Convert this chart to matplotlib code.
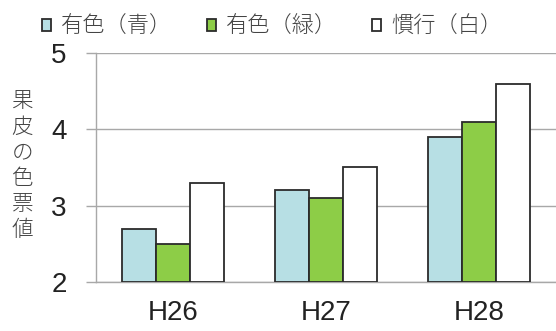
import numpy as np
import matplotlib.pyplot as plt
from matplotlib.ticker import MultipleLocator

plt.rcParams['font.family'] = ['Liberation Sans', 'Noto Sans CJK JP', 'DejaVu Sans']

# =========================
# Data
# =========================
years = ["H26", "H27", "H28"]
series_names = ["有色（青）", "有色（緑）", "慣行（白）"]
blue_vals = [2.7, 3.2, 3.9]
green_vals = [2.5, 3.1, 4.1]
white_vals = [3.3, 3.5, 4.6]
y_label = "果皮の色票値"

colors = ["#b7dfe4", "#8dcd47", "#ffffff"]
edge = "#2b2b2b"
grid_c = "#a8a8a8"
text_c = "#444444"

# =========================
# Plot
# =========================
fig = plt.figure(figsize=(5.56, 3.31), dpi=100)
ax = fig.add_axes([0.1727, 0.148, 0.8273, 0.692])

x = np.arange(len(years))
w = 0.222
handles = []
for i, (vals, c) in enumerate(zip([blue_vals, green_vals, white_vals], colors)):
    b = ax.bar(x + (i - 1) * w, np.array(vals) - 2, bottom=2, width=w,
               color=c, edgecolor=edge, linewidth=1.3, zorder=3)
    handles.append(b)

ax.set_xlim(-0.5, 2.5)
ax.set_ylim(2, 5)
ax.yaxis.set_major_locator(MultipleLocator(1))
ax.grid(axis="y", color=grid_c, linewidth=1.0, zorder=0)
ax.set_axisbelow(True)

for s in ["top", "right"]:
    ax.spines[s].set_visible(False)
ax.spines["left"].set_color(grid_c)
ax.spines["bottom"].set_color(grid_c)
ax.spines["left"].set_linewidth(1.0)
ax.spines["bottom"].set_linewidth(1.0)

ax.set_xticks(x)
ax.set_xticklabels(years)
ax.tick_params(axis="x", length=0, pad=13, labelsize=20, labelcolor="#222222")
ax.tick_params(axis="y", length=7, width=1.0, color=grid_c, pad=14,
               labelsize=20, labelcolor="#222222")

# vertical stacked y label
fig.text(0.04, 0.498, "\n".join(y_label), ha="center", va="center",
         fontsize=15.5, color=text_c, linespacing=1.3, fontweight="light")

leg = fig.legend(handles, series_names, loc="center", bbox_to_anchor=(0.489, 0.918),
                 ncol=3, frameon=False, fontsize=16, handlelength=0.42,
                 handleheight=0.42, handletextpad=0.45, columnspacing=1.55,
                 labelcolor=text_c)
for t in leg.get_texts():
    t.set_fontweight("light")

fig.savefig("out.png", dpi=100)
